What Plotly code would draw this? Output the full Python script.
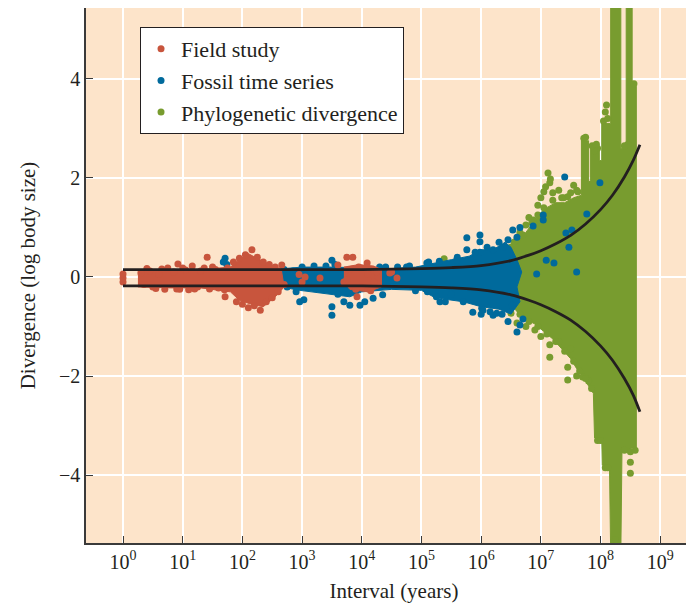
import plotly.graph_objects as go

# ---------------- data (x values are log10 of interval in years) ----------------
# Field study (scattered points)
field_u = [0, 0, 0, 0.3, 0.35, 0.45, 0.5, 0.6, 0.7, 0.75, 0.85, 0.92, 0.95, 1.05, 1.1, 1.16, 1.25, 1.3,
           1.36, 1.41, 1.45, 1.55, 1.6, 1.71, 1.75, 1.85, 1.9, 1.95, 2.0, 2.05, 2.1, 2.16, 2.2, 2.25, 2.3,
           2.35, 2.4, 2.45, 2.5, 2.55, 2.6, 2.66, 2.7, 2.95, 3.0, 3.05, 3.3, 3.6, 3.75, 3.85, 3.7, 3.8, 3.92,
           3.95, 4.0, 4.09, 4.1, 4.2, 4.25, 4.47, 4.5, 4.59, 3.9, 4.15, 3.75,
           0.4, 0.65, 1.0, 1.5, 0.55, 0.9, 1.2, 1.7]
field_y = [-0.1, -0.02, 0.06, 0.08, -0.15, 0.12, -0.2, 0.05, -0.25, 0.18, 0.1, 0.26, -0.25, 0.14, -0.26, 0.22,
           -0.2, 0.12, 0.18, 0.4, -0.24, 0.15, -0.22, -0.4, 0.18, 0.3, -0.5, 0.38, -0.55, 0.45, -0.62, 0.55,
           -0.58, 0.4, -0.67, 0.3, -0.5, 0.25, -0.42, 0.2, -0.3, 0.24, -0.15, 0.05, -0.1, 0.0, -0.02, 0.24,
           0.4, 0.4, -0.1, 0.15, -0.4, 0.2, -0.2, 0.28, 0.05, -0.1, 0.1, 0.08, 0.1, -0.02, -0.25, -0.28, -0.05,
           0.17, 0.16, 0.18, 0.2, -0.23, -0.24, -0.24, -0.26]
# Field study dense cores (visible outline)
field_core1_u = [0.25, 0.8, 1.3, 1.8, 1.95, 2.1, 2.25, 2.45, 2.65, 2.7, 2.55, 2.35, 2.15, 1.95, 1.8, 1.3, 0.8, 0.25]
field_core1_y = [0.14, 0.15, 0.15, 0.2, 0.35, 0.47, 0.38, 0.25, 0.16, -0.2, -0.4, -0.6, -0.55, -0.47, -0.3, -0.22, -0.22, -0.2]
field_core2_u = [3.7, 3.95, 4.2, 4.33, 4.33, 4.1, 3.8, 3.7]
field_core2_y = [0.2, 0.25, 0.22, 0.15, -0.2, -0.3, -0.25, -0.1]

# Fossil time series
fossil_u = [1.71, 1.74, 1.68, 2.6, 2.7, 2.75, 2.85, 2.9, 2.96, 3.0, 3.03, 3.1, 3.15, 3.3, 3.5, 3.5, 3.5, 3.55,
            3.7, 3.8, 3.97, 4.05, 4.19, 4.35, 4.3, 4.6, 4.75, 5.09, 5.12, 5.31, 5.4, 5.25, 5.5, 5.59, 5.76,
            5.98, 5.98, 5.76, 5.98, 5.86, 6.01, 6.2, 6.0, 6.2, 6.37, 6.53, 6.65, 6.6, 6.87, 7.04, 7.04, 6.03,
            6.26, 6.52, 6.6, 6.65, 7.4, 7.99, 7.77, 7.42, 7.52, 7.47, 7.22, 7.6, 6.93, 7.09, 6.45, 6.7,
            3.2, 3.4, 3.6, 4.4, 4.8, 4.9, 5.1, 5.3, 5.6, 5.7, 5.9, 6.1, 6.3, 6.45, 6.15, 6.35]
fossil_y = [0.38, 0.25, 0.3, 0.05, 0.15, -0.2, 0.12, -0.3, -0.5, 0.2, -0.46, -0.15, 0.1, -0.25, 0.34, -0.77,
            -0.6, 0.25, -0.5, -0.57, -0.57, -0.5, -0.43, -0.36, 0.2, 0.2, 0.2, 0.28, 0.3, -0.5, -0.5, -0.4,
            -0.35, 0.34, 0.79, 0.85, 0.71, 0.55, 0.5, -0.71, -0.63, -0.77, -0.75, 0.55, 0.6, 0.95, 1.0, 0.8,
            1.03, 1.25, 1.15, -0.67, -0.73, -0.57, -1.11, -0.97, 2.02, 1.9, 1.27, 0.89, 0.95, 0.6, 0.28, 0.1,
            0.06, 0.34, -0.9, -0.85,
            0.22, 0.22, -0.35, 0.2, 0.22, -0.28, -0.3, 0.32, 0.4, -0.5, 0.5, 0.6, 0.7, 0.75, -0.7, -0.75]
fossil_core_u = [2.6, 3.0, 3.5, 4.0, 4.5, 4.9, 5.2, 5.5, 5.8, 6.0, 6.2, 6.4, 6.5, 6.6, 6.68, 6.6, 6.65, 6.5,
                 6.3, 6.0, 5.7, 5.4, 5.2, 5.0, 4.5, 4.0, 3.8, 3.5, 3.2, 2.9, 2.6]
fossil_core_y = [0.16, 0.2, 0.2, 0.18, 0.17, 0.2, 0.28, 0.35, 0.42, 0.55, 0.55, 0.7, 0.6, 0.35, 0.1, -0.2,
                 -0.5, -0.75, -0.65, -0.6, -0.5, -0.45, -0.4, -0.27, -0.25, -0.3, -0.4, -0.35, -0.3, -0.26, -0.18]

# Phylogenetic divergence
phylo_u = [5.38, 6.35, 6.45, 6.55, 6.65, 6.75, 6.8, 6.87, 6.95, 7.0, 7.05, 7.08, 7.12, 7.15, 7.16, 7.2, 7.3,
           7.38, 7.45, 7.55, 7.6, 6.3, 6.4, 6.5, 6.6, 6.75, 6.9, 7.0, 7.15, 7.15, 7.3, 7.45, 7.45, 7.5, 7.6,
           7.7, 7.8, 8.08, 8.1, 7.95, 7.9, 8.5, 8.5, 8.5, 8.25,
           6.3, 6.4, 6.5, 6.6, 6.7, 6.85, 6.95, 7.05, 7.2, 7.35, 7.5, 7.62, 7.72, 7.75, 7.86, 7.93, 8.05,
           8.12, 8.46, 8.4, 8.56,
           6.35, 6.5, 6.65, 6.8, 6.95, 7.1, 7.25, 7.4, 7.55, 7.65, 7.75, 7.85, 7.95, 8.0, 8.08, 8.12, 8.58, 8.4]
phylo_y = [0.37, 0.35, 0.55, 0.7, 0.9, 1.05, 1.2, 1.15, 1.45, 1.6, 1.72, 1.82, 2.1, 1.9, 1.98, 1.7, 1.75, 1.6,
           1.62, 1.85, 1.75, -0.4, -0.55, -0.73, -0.93, -1.0, -1.07, -1.2, -1.37, -1.62, -1.3, -1.82, -2.08,
           -1.45, -2.0, -2.02, -2.1, 3.33, 3.47, 2.6, 2.55, -3.53, -3.74, -3.96, -5.3,
           0.3, 0.45, 0.6, 0.75, 0.85, 1.1, 1.25, 1.4, 1.55, 1.6, 1.7, 1.72, 2.8, 2.82, 2.65, 2.68, 3.15,
           3.2, 2.68, 2.65, 3.9,
           -0.3, -0.55, -0.75, -0.9, -1.0, -1.15, -1.3, -1.5, -1.7, -1.9, -2.05, -2.25, -3.3, -3.3, -3.85,
           -3.85, -3.5, -3.5]
phylo_core_u = [6.22, 6.3, 6.45, 6.6, 6.75, 6.9, 7.0, 7.1, 7.25, 7.4, 7.55, 7.68, 7.68, 7.8, 7.8, 7.83,
                7.83, 7.98, 7.98, 8.02, 8.02, 8.17, 8.17, 8.34, 8.34, 8.43, 8.43, 8.53, 8.53, 8.6, 8.6, 8.53,
                8.45, 8.36, 8.34, 8.17, 8.15, 8.03, 8.02, 7.9, 7.88, 7.8, 7.7, 7.6, 7.5, 7.35, 7.2, 7.05, 6.9,
                6.75, 6.6, 6.45, 6.3]
phylo_core_y = [0.0, 0.25, 0.5, 0.7, 0.9, 1.15, 1.3, 1.4, 1.5, 1.5, 1.6, 1.65, 2.75, 2.75, 1.9, 1.95,
                2.6, 2.6, 2.35, 2.35, 3.1, 3.1, 5.6, 5.6, 2.6, 2.6, 5.6, 5.6, 3.85, 3.85, -3.45, -3.45,
                -3.5, -3.45, -5.6, -5.6, -3.8, -3.8, -3.25, -3.25, -2.35, -2.2, -2.0, -1.85, -1.65, -1.45,
                -1.25, -1.1, -0.95, -0.85, -0.7, -0.45, -0.25]

# Envelope curves
curve_u = [0, 4, 5, 5.5, 6, 6.5, 6.8, 7.0, 7.25, 7.5, 7.75, 8.0, 8.2, 8.4, 8.55, 8.66]
curve_upper = [0.15, 0.15, 0.17, 0.19, 0.23, 0.33, 0.44, 0.53, 0.67, 0.84, 1.07, 1.36, 1.65, 2.02, 2.36, 2.67]
curve_lower = [-0.18, -0.18, -0.2, -0.22, -0.26, -0.36, -0.47, -0.56, -0.7, -0.87, -1.1, -1.39, -1.68,
               -2.05, -2.39, -2.72]

# Axis ticks
xtick_exp = [0, 1, 2, 3, 4, 5, 6, 7, 8, 9]
ytick_vals = [-4, -2, 0, 2, 4]
ytick_text = ["\u22124", "\u22122", "0", "2", "4"]

# ---------------- styling ----------------
RED = "#C8553D"
BLUE = "#006A9C"
GREEN = "#789C2F"
LINE = "#231F20"
BG = "#FDE4CA"
FONT = "Liberation Serif"


def yrs(us):
    return [10 ** u for u in us]


fig = go.Figure()


def core(us, ys, color):
    fig.add_trace(go.Scatter(x=yrs(us), y=ys, mode="lines", fill="toself", fillcolor=color,
                             line=dict(color=color, width=1), showlegend=False, hoverinfo="skip"))


def dots(us, ys, color, name, rank):
    fig.add_trace(go.Scatter(x=yrs(us), y=ys, mode="markers", name=name, legendrank=rank,
                             legendgroup=name,
                             marker=dict(color=color, size=7, line=dict(width=0))))


core(phylo_core_u, phylo_core_y, GREEN)
dots(phylo_u, phylo_y, GREEN, "Phylogenetic divergence", 3)
core(fossil_core_u, fossil_core_y, BLUE)
dots(fossil_u, fossil_y, BLUE, "Fossil time series", 2)
core(field_core1_u, field_core1_y, RED)
core(field_core2_u, field_core2_y, RED)
dots(field_u, field_y, RED, "Field study", 1)

for cy in (curve_upper, curve_lower):
    fig.add_trace(go.Scatter(x=yrs(curve_u), y=cy, mode="lines",
                             line=dict(color=LINE, width=2.8, shape="spline", smoothing=0.8),
                             showlegend=False, hoverinfo="skip"))

axis_common = dict(showline=True, linecolor="#3a3a3a", linewidth=1.5, ticks="inside", ticklen=7,
                   tickcolor="#3a3a3a", tickwidth=1.2, showgrid=True, gridcolor="white", gridwidth=1.5,
                   zeroline=False, mirror=False, automargin=False,
                   tickfont=dict(family=FONT, size=20, color="#231F20"),
                   title_font=dict(family=FONT, size=21, color="#231F20"))

fig.update_layout(
    width=694, height=604,
    margin=dict(l=78, r=0, t=0, b=69),
    paper_bgcolor="white", plot_bgcolor=BG,
    font=dict(family=FONT, color="#231F20"),
    xaxis=dict(type="log", range=[-0.62, 9.70],
               tickvals=[10 ** e for e in xtick_exp],
               ticktext=["10<sup>%d</sup>" % e for e in xtick_exp],
               title=dict(text="Interval (years)", standoff=12), **axis_common),
    yaxis=dict(range=[-5.37, 5.43], tickvals=ytick_vals, ticktext=ytick_text,
               title=dict(text="Divergence (log body size)", standoff=18), **axis_common),
    legend=dict(x=0.0877, y=0.9645, xanchor="left", yanchor="top", bgcolor="white",
                bordercolor="#231F20", borderwidth=1, traceorder="grouped", tracegroupgap=0,
                font=dict(family=FONT, size=22, color="#231F20"), itemsizing="trace"),
    showlegend=True,
)

fig.write_html("out.html")
